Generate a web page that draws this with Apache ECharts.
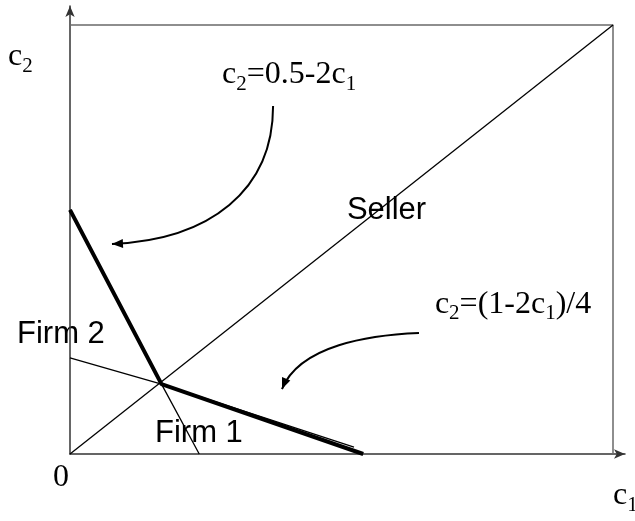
<!DOCTYPE html>
<html>
<head>
<meta charset="utf-8">
<script src="https://cdn.jsdelivr.net/npm/echarts@6/dist/echarts.min.js"></script>
<style>
  html, body { margin: 0; padding: 0; background: #fff; }
  #chart { width: 635px; height: 521px; }
</style>
</head>
<body>
<div id="chart"></div>
<script>
// Seller's diagonal c2 = c1
const sellerLine = [[0, 0], [1, 1]];
// Firm 1's reaction line c2 = 0.5 - 2c1, running down to the c1 axis
const firm1Line = [[0, 0.569], [0.1685, 0.163], [0.238, 0]];
// Firm 2's reaction line c2 = (1 - 2c1)/4
const firm2Line = [[0, 0.224], [0.1685, 0.163], [0.523, 0.016]];
// Upper envelope of the two reaction lines (heavy)
const envelope = [[0, 0.569], [0.1685, 0.163], [0.540, 0]];
// Top and right edges of the unit square
const unitBox = [[0, 1], [1, 1], [1, 0]];

// Text annotations: anchor = [c1, c2] of the left end of the text baseline
const labelText = [
  '{m|c}{s|2}',
  '{m|c}{s|2}{m|=0.5-2c}{s|1}',
  '{a|Seller}',
  '{a|Firm 2}',
  '{a|Firm 1}',
  '{m|c}{s|2}{m|=(1-2c}{s|1}{m|)/4}',
  '{m|0}',
  '{m|c}{s|1}'
];
const labelAnchor = [
  [-0.114, 0.902],
  [0.280, 0.860],
  [0.510, 0.5455],
  [-0.0976, 0.2564],
  [0.1565, 0.0256],
  [0.672, 0.326],
  [-0.0313, -0.0793],
  [1.0, -0.121]
];

// Curved pointer arrows, cubic Bezier control points [start, c1, c2, tip]
const pointerArrows = [
  [[0.374, 0.811], [0.374, 0.615], [0.258, 0.499], [0.0773, 0.4895]],
  [[0.6427, 0.282], [0.5525, 0.2774], [0.4236, 0.254], [0.3904, 0.1515]]
];

const SERIF = '"Liberation Serif", "Times New Roman", serif';
const SANS = '"Liberation Sans", Arial, sans-serif';

const chart = echarts.init(document.getElementById('chart'), null, { renderer: 'canvas' });

function lineSeries(data, width, color) {
  return {
    type: 'line',
    data: data,
    showSymbol: false,
    symbol: 'none',
    silent: true,
    animation: false,
    clip: false,
    lineStyle: { width: width, color: color }
  };
}

const axisCommon = {
  type: 'value',
  min: 0,
  axisTick: { show: false },
  axisLabel: { show: false },
  splitLine: { show: false },
  axisLine: {
    show: true,
    symbol: ['none', 'arrow'],
    symbolSize: [7, 11],
    lineStyle: { color: '#333', width: 1.5 }
  }
};

chart.setOption({
  animation: false,
  backgroundColor: '#fff',
  grid: { left: 70, top: 6, width: 555, height: 448 },
  xAxis: Object.assign({}, axisCommon, { max: 555 / 543 }),
  yAxis: Object.assign({}, axisCommon, { max: 448 / 429 }),
  series: [
    lineSeries(unitBox, 1.5, '#6a6a6a'),
    lineSeries(sellerLine, 1.3, '#000'),
    lineSeries(firm1Line, 1.3, '#000'),
    lineSeries(firm2Line, 1.3, '#000'),
    lineSeries(envelope, 4, '#000')
  ]
});

const rich = {
  m: { fontFamily: SERIF, fontSize: 32, lineHeight: 40, color: '#000' },
  s: { fontFamily: SERIF, fontSize: 21, lineHeight: 23, verticalAlign: 'bottom', color: '#000' },
  a: { fontFamily: SANS, fontSize: 31, lineHeight: 40, color: '#000' }
};

function toPx(p) {
  return chart.convertToPixel({ gridIndex: 0 }, p);
}

const graphics = [];

labelText.forEach(function (txt, i) {
  const p = toPx(labelAnchor[i]);
  graphics.push({
    type: 'text',
    x: p[0],
    y: p[1] - 10,
    silent: true,
    style: { text: txt, rich: rich, align: 'left', verticalAlign: 'middle' }
  });
});

pointerArrows.forEach(function (arr) {
  const q = arr.map(toPx);
  graphics.push({
    type: 'bezierCurve',
    silent: true,
    shape: {
      x1: q[0][0], y1: q[0][1],
      cpx1: q[1][0], cpy1: q[1][1],
      cpx2: q[2][0], cpy2: q[2][1],
      x2: q[3][0], y2: q[3][1]
    },
    style: { stroke: '#000', lineWidth: 2, fill: null }
  });
  // arrowhead along the final tangent
  let dx = q[3][0] - q[2][0], dy = q[3][1] - q[2][1];
  const len = Math.sqrt(dx * dx + dy * dy);
  dx /= len; dy /= len;
  const L = 11, W = 4.5;
  const bx = q[3][0] - dx * L, by = q[3][1] - dy * L;
  graphics.push({
    type: 'polygon',
    silent: true,
    shape: { points: [[q[3][0], q[3][1]], [bx - dy * W, by + dx * W], [bx + dy * W, by - dx * W]] },
    style: { fill: '#000' }
  });
});

chart.setOption({ graphic: graphics });
</script>
</body>
</html>
